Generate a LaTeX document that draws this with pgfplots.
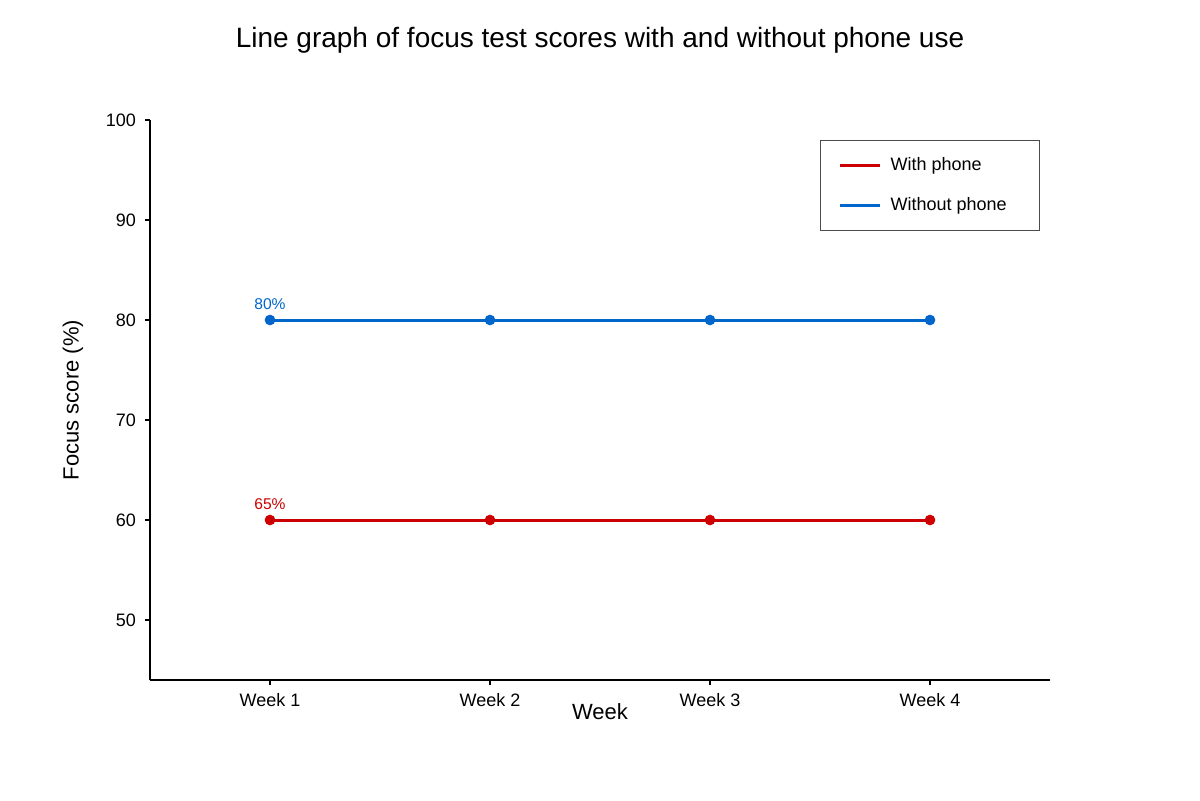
\documentclass[border=0pt]{standalone}
\usepackage{fontspec}
\setmainfont{Liberation Sans}
\usepackage{pgfplots}
\pgfplotsset{compat=1.18}

\definecolor{phonered}{RGB}{204,0,0}
\definecolor{nophoneblue}{RGB}{0,102,204}

\begin{document}
% 1 px of the reference = 0.5pt
\begin{tikzpicture}
\path[use as bounding box] (-75pt,-60pt) rectangle (525pt,340pt);
\begin{axis}[
    at={(0pt,0pt)}, anchor=south west,
    scale only axis,
    width=450pt, height=280pt,
    xmin=0.4545, xmax=4.5455,
    ymin=44, ymax=100,
    axis lines=left,
    axis line style={line width=1pt, -},
    xtick={1,2,3,4},
    xticklabels={Week 1, Week 2, Week 3, Week 4},
    ytick={50,60,70,80,90,100},
    tick align=outside,
    major tick length=2.5pt,
    tick style={line width=1pt, black},
    tick label style={font=\fontsize{9pt}{11pt}\selectfont},
    /pgf/number format/assume math mode=true,
    xticklabel style={yshift=-0.5pt},
    yticklabel style={xshift=-1pt},
    xlabel={Week},
    ylabel={Focus score (\%)},
    label style={font=\fontsize{11pt}{13pt}\selectfont},
    xlabel style={at={(axis description cs:0.5,-0.0571)}, anchor=center},
    ylabel style={at={(axis description cs:-0.0856,0.5)}, anchor=center},
    legend style={
        at={(rel axis cs:0.9889,0.9643)}, anchor=north east,
        draw=black!70, line width=0.5pt,
        font=\fontsize{9pt}{11pt}\selectfont,
        inner xsep=9pt, inner ysep=6.5pt,
        row sep=8pt,
        /tikz/every odd column/.append style={column sep=2.5pt},
    },
    legend cell align=left,
    legend image code/.code={\draw[#1, line width=1.5pt] (0pt,0pt) -- (20pt,0pt);},
]
\addplot[phonered, line width=1.5pt, mark=*, mark size=2.5pt,
    mark options={line width=0.3pt}] coordinates {
    (1,60) (2,60) (3,60) (4,60)
};
\addlegendentry{With phone}
\addplot[nophoneblue, line width=1.5pt, mark=*, mark size=2.5pt,
    mark options={line width=0.3pt}] coordinates {
    (1,80) (2,80) (3,80) (4,80)
};
\addlegendentry{\makebox[63.5pt][l]{Without phone}}

\node[nophoneblue, font=\fontsize{7.8pt}{9pt}\selectfont, anchor=center]
    at (axis cs:1,80) [yshift=8pt] {80\%};
\node[phonered, font=\fontsize{7.8pt}{9pt}\selectfont, anchor=center]
    at (axis cs:1,60) [yshift=8pt] {65\%};
\end{axis}
\node[font=\fontsize{14pt}{17pt}\selectfont] at (225pt,320pt)
    {Line graph of focus test scores with and without phone use};
\end{tikzpicture}
\end{document}
